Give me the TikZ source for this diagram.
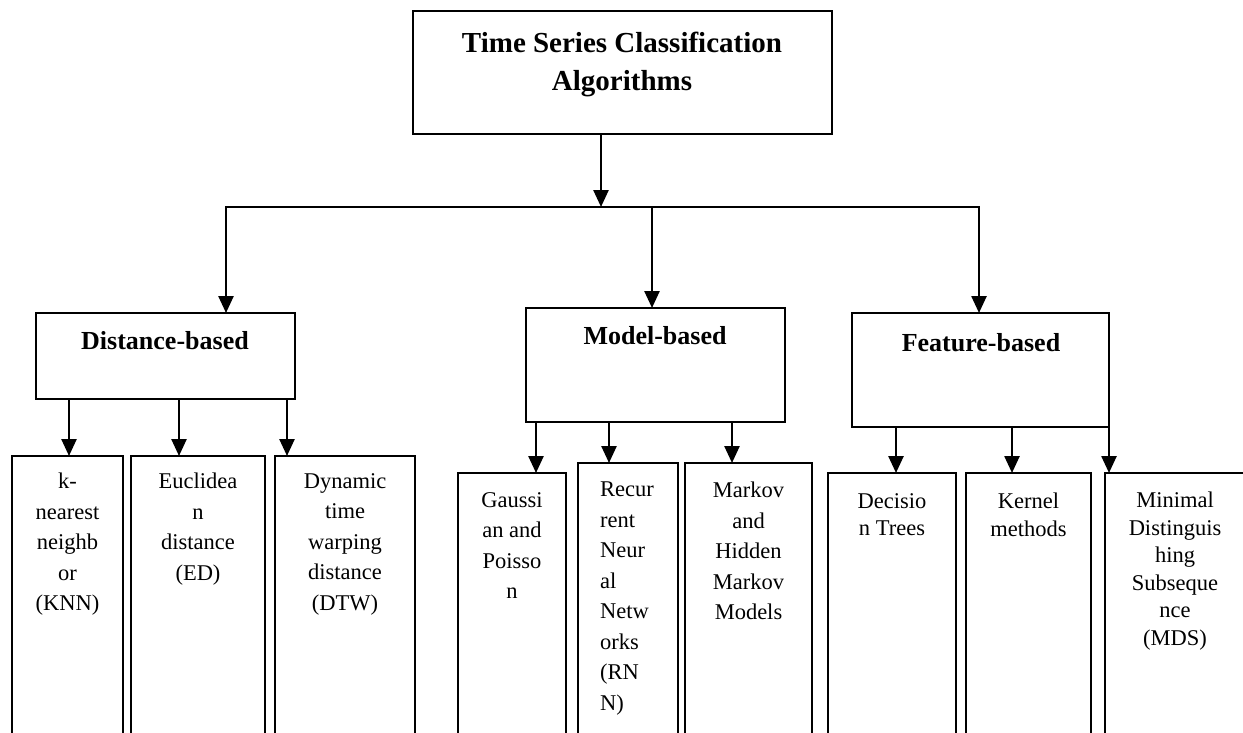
\documentclass[tikz,border=0pt]{standalone}
\usepackage{fontspec}
\setmainfont{Liberation Serif}
\usetikzlibrary{arrows.meta}
\begin{document}
\begin{tikzpicture}[x=1pt,y=-1pt,
  box/.style={draw, line width=2pt, rectangle, inner sep=0pt, outer sep=0pt, anchor=north west},
  arr/.style={line width=2.5pt, -{Triangle[width=15pt,length=17pt]}},
  ttl/.style={font=\fontsize{29}{38}\selectfont\bfseries, align=center, inner sep=0pt},
  cat/.style={font=\fontsize{26}{30}\selectfont\bfseries, inner sep=0pt, anchor=base},
  leaf/.style={font=\fontsize{22.5}{30.5}\selectfont, align=center, inner sep=0pt, anchor=north},
  leafb/.style={font=\fontsize{22.5}{27.5}\selectfont, align=center, inner sep=0pt, anchor=north}]
\useasboundingbox (0,0) rectangle (1243,732);
\clip (0,0) rectangle (1243,732);

% top
\node[box, minimum width=419pt, minimum height=123pt] (top) at (413,11) {};
\node[ttl, anchor=north] (topT) at (622,32) {Time Series Classification\\Algorithms};

% categories
\node[box, minimum width=259pt, minimum height=86pt] (dist) at (36,313) {};
\node[cat] (distT) at (165,349) {Distance-based};
\node[box, minimum width=259pt, minimum height=114pt] (model) at (526,308) {};
\node[cat] (modelT) at (655,344) {Model-based};
\node[box, minimum width=257pt, minimum height=114pt] (feat) at (852,313) {};
\node[cat] (featT) at (981,351) {Feature-based};

% leaves
\node[box, minimum width=111pt, minimum height=400pt] (knn) at (12,456) {};
\node[box, minimum width=134pt, minimum height=400pt] (euc) at (131,456) {};
\node[box, minimum width=140pt, minimum height=400pt] (dtw) at (275,456) {};
\node[box, minimum width=108pt, minimum height=400pt] (gau) at (458,473) {};
\node[box, minimum width=100pt, minimum height=400pt] (rnn) at (578,463) {};
\node[box, minimum width=127pt, minimum height=400pt] (mkv) at (685,463) {};
\node[box, minimum width=128pt, minimum height=400pt] (dec) at (828,473) {};
\node[box, minimum width=125pt, minimum height=400pt] (ker) at (966,473) {};
\node[box, minimum width=160pt, minimum height=400pt] (mds) at (1105,473) {};

\node[leaf] (knnT) at ([yshift=-17pt]knn.north) {k-\\nearest\\neighb\\or\\(KNN)};
\node[leaf] (eucT) at ([yshift=-17pt]euc.north) {Euclidea\\n\\distance\\(ED)};
\node[leaf] (dtwT) at ([yshift=-17pt]dtw.north) {Dynamic\\time\\warping\\distance\\(DTW)};
\node[leaf] (gauT) at ([yshift=-19pt]gau.north) {Gaussi\\an and\\Poisso\\n};
\node[leaf, align=left, anchor=north west] (rnnT) at ([xshift=22pt,yshift=-19pt]rnn.north west) {Recur\\rent\\Neur\\al\\Netw\\orks\\(RN\\N)};
\node[leaf] (mkvT) at ([yshift=-19pt]mkv.north) {Markov\\and\\Hidden\\Markov\\Models};
\node[leafb] (decT) at ([yshift=-20pt]dec.north) {Decisio\\n Trees};
\node[leafb] (kerT) at ([yshift=-20pt]ker.north) {Kernel\\methods};
\node[leafb] (mdsT) at (1175,492) {Minimal\\Distinguis\\hing\\Subseque\\nce\\(MDS)};

% connectors top level
\coordinate (j) at (601,207);
\coordinate (jd) at (226,207);
\coordinate (jm) at (652,207);
\coordinate (jf) at (979,207);
\draw[arr] (top.south -| j) -- (j);
\draw[arr] (j) -| (dist.north -| jd);
\draw[arr] (j) -| (model.north -| jm);
\draw[arr] (j) -| (feat.north -| jf);

% leaf connectors
\coordinate (a1) at ([xshift=57pt]knn.north west);
\coordinate (a2) at ([xshift=48pt]euc.north west);
\coordinate (a3) at ([xshift=12pt]dtw.north west);
\coordinate (b1) at ([xshift=78pt]gau.north west);
\coordinate (b2) at ([xshift=31pt]rnn.north west);
\coordinate (b3) at ([xshift=47pt]mkv.north west);
\coordinate (c1) at ([xshift=68pt]dec.north west);
\coordinate (c2) at ([xshift=46pt]ker.north west);
\coordinate (c3) at ([xshift=4pt]mds.north west);
\foreach \p/\q in {dist/a1,dist/a2,dist/a3,model/b1,model/b2,model/b3,feat/c1,feat/c2,feat/c3}
  \draw[arr] (\p.south -| \q) -- (\q);
\end{tikzpicture}
\end{document}
